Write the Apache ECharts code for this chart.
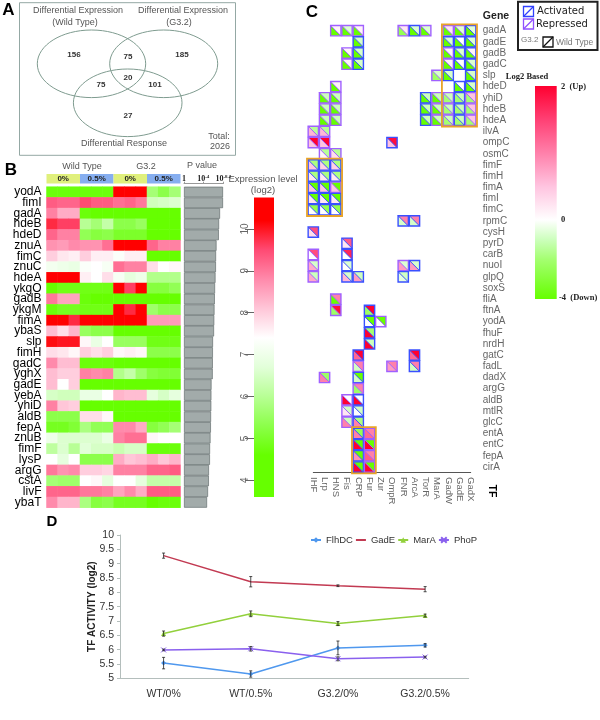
<!DOCTYPE html>
<html><head><meta charset="utf-8">
<style>html,body{margin:0;padding:0;background:#fff}#c{width:600px;height:720px}</style>
<script src="https://cdn.jsdelivr.net/npm/echarts@6/dist/echarts.min.js"></script>
</head><body><div id="c"></div>
<script>
// ---------- Panel A ----------
const vennCounts = ['156','75','185','20','75','101','27'];
const vennTotal = '2026';
// ---------- Panel B ----------
const exprGenes = ['yodA','fimI','gadA','hdeB','hdeD','znuA','fimC','znuC','hdeA','ykgO','gadB','ykgM','fimA','ybaS','slp','fimH','gadC','yghX','gadE','yebA','yhiD','aldB','fepA','znuB','fimF','lysP','argG','cstA','livF','ybaT'];
const exprConditions = ['WT0a','WT0b','WT0c','WT5a','WT5b','WT5c','G0a','G0b','G0c','G5a','G5b','G5c'];
const exprValues = [
[4.7,4.7,4.7,4.7,4.7,4.7,10.5,10.5,10.5,5.7,5.3,5.7],
[9.3,9.2,9.2,9.5,9.3,9.3,9.1,9.2,9.0,6.4,6.5,6.6],
[8.9,8.4,8.4,4.7,4.5,4.5,4.5,4.5,4.5,4.5,4.5,4.5],
[9.8,9.6,9.6,6.0,5.7,6.2,5.3,5.3,5.5,4.6,4.5,4.5],
[9.2,8.9,8.9,5.4,5.2,5.3,5.0,5.0,5.0,4.6,4.6,4.6],
[8.7,8.6,8.8,8.7,8.7,9.1,10.5,10.5,10.5,9.2,8.9,8.9],
[8.0,7.7,7.6,8.0,7.6,7.6,7.3,7.6,7.6,4.6,4.6,4.6],
[7.1,7.0,6.9,7.3,7.4,7.2,9.1,8.9,8.9,7.8,7.4,7.5],
[10.5,10.5,10.5,7.6,7.4,7.8,7.2,6.8,7.0,5.9,5.9,5.9],
[4.6,4.8,4.8,4.8,4.8,4.8,10.5,9.6,10.5,5.2,5.2,5.4],
[9.0,8.5,8.5,4.7,4.5,4.5,4.5,4.5,4.5,4.5,4.5,4.5],
[4.7,4.9,4.9,4.8,4.8,4.8,10.3,9.8,10.3,5.6,5.3,5.3],
[10.3,10.5,9.8,10.3,10.3,10.3,10.5,10.5,10.5,8.6,8.6,8.6],
[8.2,7.8,8.3,5.5,5.3,5.3,4.6,4.6,4.6,4.5,4.5,4.5],
[10.1,10.0,10.0,7.5,6.9,7.4,5.5,5.5,5.5,4.8,4.8,4.8],
[7.8,7.7,7.5,8.0,7.8,8.0,7.5,7.6,7.5,5.3,5.3,5.3],
[8.8,8.2,8.2,4.7,4.7,4.7,4.5,4.5,4.5,4.5,4.5,4.5],
[8.2,8.0,8.0,8.9,8.8,8.9,5.9,6.2,5.6,5.2,5.1,5.1],
[8.2,7.4,8.0,4.6,4.5,4.5,4.5,4.5,4.5,4.5,4.5,4.5],
[6.5,6.4,6.4,6.9,6.9,7.4,8.3,8.2,8.2,6.8,6.5,6.8],
[8.9,8.1,8.0,4.6,4.5,4.5,4.5,4.5,4.5,4.5,4.5,4.5],
[5.3,5.3,5.3,7.8,7.8,7.5,4.6,4.6,4.6,4.6,4.6,4.6],
[4.9,4.9,5.1,5.8,5.4,5.4,8.8,8.8,8.4,5.2,5.4,5.7],
[7.0,6.6,6.6,6.6,6.6,6.9,8.9,9.1,9.1,7.5,7.4,7.4],
[6.1,6.6,6.0,6.7,6.5,6.5,6.3,6.5,6.5,4.7,4.7,4.7],
[7.4,6.8,7.4,5.3,5.3,5.3,8.4,8.1,8.2,8.4,8.1,8.3],
[9.0,8.7,8.8,8.0,8.0,7.9,8.9,8.9,8.9,9.2,9.2,9.3],
[5.7,5.6,5.6,7.4,7.5,6.8,7.4,7.4,6.8,6.2,6.2,6.2],
[9.2,9.2,9.2,9.0,9.0,8.9,8.5,8.8,8.4,9.3,9.3,9.3],
[8.8,8.3,8.3,5.8,5.2,5.3,4.9,4.9,4.9,4.6,4.7,4.7]];
const pValueLog = [8.12,8.12,7.5,7.3,7.25,6.77,6.67,6.65,6.56,6.46,6.42,6.35,6.3,6.25,6.04,6.02,6.0,5.98,5.73,5.7,5.68,5.63,5.6,5.52,5.42,5.4,5.2,5.18,5.0,4.8];
const exprTicks = [4,5,6,7,8,9,10];
const exprScaleStops = [[4.6,'#66ff00'],[5.3,'#8cff4a'],[6.0,'#b8ff95'],[6.7,'#e2ffd9'],[7.4,'#ffffff'],[8.1,'#ffc6d8'],[8.8,'#ff8aab'],[9.5,'#ff4a73'],[10.2,'#ff0000']];
const conditionLabels = ['0%','0.5%','0%','0.5%'];
// ---------- Panel C ----------
const tfNames = ['IHF','Lrp','HNS','Fis','CRP','Fur','Zur','OmpR','FNR','ArcA','TorR','MarA','GadW','GadE','GadX'];
const targetGenes = ['gadA','gadE','gadB','gadC','slp','hdeD','yhiD','hdeB','hdeA','ilvA','ompC','osmC','fimF','fimH','fimA','fimI','fimC','rpmC','cysH','pyrD','carB','nuoI','glpQ','soxS','fliA','ftnA','yodA','fhuF','nrdH','gatC','fadL','dadX','argG','aldB','mtlR','glcC','entA','entC','fepA','cirA'];
// [tf index, gene index, 1 = activated / 0 = repressed, WT (lower-left) log2, G3.2 (upper-right) log2]
const regulationCells = [
[2,0,0,-4,.1],[3,0,0,-4,-.7],[4,0,0,-4,.1],[8,0,0,-2.5,.2],[9,0,1,-4,-.7],[10,0,0,-4,-.7],[12,0,0,-4,.2],[13,0,0,-4,-.6],[14,0,1,-4,-.6],
[4,1,1,-4,-.8],[12,1,1,-4,-.7],[13,1,1,-4,0],[14,1,1,-4,-.7],
[3,2,0,-4,.1],[4,2,1,-4,-.8],[12,2,0,-4,.1],[13,2,1,-4,-.7],[14,2,1,-4,.1],
[3,3,0,-4,.1],[4,3,1,-4,-.8],[12,3,0,-4,.1],[13,3,1,-4,0],[14,3,1,-4,-.7],
[11,4,0,-2.2,-.8],[12,4,1,-4,-.8],[14,4,1,-4,-.8],
[2,5,0,-4,.1],[13,5,1,-4,0],[14,5,1,-4,-.8],
[1,6,0,-4,-1],[2,6,0,-4,-1],[10,6,1,-4,-1],[11,6,0,-4,-1],[12,6,0,-2,-1],[13,6,1,-2,-1],[14,6,0,-2,.5],
[1,7,0,-4,-1],[2,7,0,-4,-1],[10,7,1,-4,-1],[11,7,0,-4,-1],[12,7,0,-2,-1],[13,7,1,-2,-1],[14,7,0,-2,.5],
[1,8,0,-4,-1],[2,8,0,-4,-1],[10,8,1,-4,-1],[11,8,0,-4,-1],[12,8,0,-2,-1],[13,8,1,-2,-1],[14,8,0,-2,.5],
[0,9,0,.6,-1.5],[1,9,0,.6,-1.5],
[0,10,0,.5,2],[1,10,0,.5,2],[7,10,1,.5,1.9],
[1,11,0,.1,-1.5],[2,11,0,.3,-1.5],
[0,12,1,.5,-1.8],[1,12,1,.4,-1.8],[2,12,1,.4,-1.8],
[0,13,1,.2,-1.8],[1,13,1,.2,-1.8],[2,13,1,.2,-1.8],
[0,14,1,.5,-4],[1,14,1,.5,-4],[2,14,0,.5,-4],
[0,15,1,.2,-4],[1,15,1,.2,-4],[2,15,1,.2,-4],
[0,16,1,0,-2.6],[1,16,1,0,-2.6],[2,16,1,0,-2.6],
[8,17,1,-.8,1],[9,17,1,-.8,1],
[0,18,1,.3,1.4],
[3,19,1,.2,1.3],
[0,20,0,0,1.4],[3,20,1,0,1.7],
[0,21,0,.7,-.8],[3,21,1,0,-.7],[8,21,0,.8,-.7],[9,21,1,.8,-.8],
[0,22,0,.7,-1],[3,22,1,.6,-.8],[4,22,1,.8,-1],[8,22,1,-.5,-.9],
[2,24,0,-4,1],[2,25,0,-2.2,1.9],[5,25,1,-2.2,2],
[5,26,1,0,-4],[6,26,0,0,-4],
[5,27,1,2,-2],[5,28,1,2,-1],
[4,29,1,1.2,2],[9,29,1,1.2,2],
[4,30,0,-.9,1],[7,30,0,.8,1],[9,30,1,-.9,1],
[1,31,0,1,-2.2],[4,31,1,-.9,-4],
[4,32,0,-2.2,1],
[3,33,0,2,0],[4,33,1,2,0],
[3,34,0,.2,-.9],[4,34,1,0,-.9],
[3,35,0,1,-1],[4,35,1,1,-1.8],
[4,36,1,1,-2.5],[5,36,0,1.2,1],
[4,37,1,2,-4],[5,37,0,2,-4],
[4,38,1,.9,-4],[5,38,0,1.3,1],
[4,39,1,2,-4],[5,39,0,2,-4]];
const highlightBlocks = [[12,0,14,8],[0,12,2,16],[4,36,5,39]];
const log2Stops = [[-4,'#66ff00'],[-2,'#a4ff70'],[-1,'#ccffbc'],[0,'#ffffff'],[0.5,'#ffc4e0'],[1,'#ff80aa'],[1.5,'#ff4074'],[2,'#ff0030']];
// ---------- Panel D ----------
const sampleLabels = ['WT/0%','WT/0.5%','G3.2/0%','G3.2/0.5%'];
const flhDC = [5.53,5.15,6.06,6.15];
const flhDCErr = [.2,.11,.24,.06];
const gadE = [9.28,8.37,8.23,8.11];
const gadEErr = [.09,.18,.03,.09];
const marA = [6.56,7.25,6.91,7.19];
const marAErr = [.09,.1,.07,.05];
const phoP = [5.99,6.03,5.68,5.74];
const phoPErr = [.03,.08,.07,.03];

const SANS = '"Liberation Sans",Arial,sans-serif', SERIF='"Liberation Serif",serif', WIDE='"DejaVu Sans",sans-serif';
function hex(c){return [1,3,5].map(i=>parseInt(c.substr(i,2),16));}
function scaleColor(stops,v){
  if(v<=stops[0][0])return stops[0][1];
  for(let i=1;i<stops.length;i++){ if(v<=stops[i][0]){
    const t=(v-stops[i-1][0])/(stops[i][0]-stops[i-1][0]),a=hex(stops[i-1][1]),b=hex(stops[i][1]);
    return 'rgb('+a.map((x,k)=>Math.round(x+(b[k]-x)*t)).join(',')+')';}}
  return stops[stops.length-1][1];
}
const chart = echarts.init(document.getElementById('c'),null,{renderer:'canvas'});
const g = [];
function T(text,x,y,o){o=o||{};g.push({type:'text',x,y,rotation:o.rot||0,silent:true,style:{text,x:0,y:0,fill:o.fill||'#555',font:(o.w||'normal')+' '+(o.s||9)+'px '+(o.f||SANS),textAlign:o.a||'center',textVerticalAlign:'middle'}});}
function R(x,y,w,h,fill,stroke,lw){g.push({type:'rect',shape:{x,y,width:w,height:h},silent:true,style:{fill:fill||'none',stroke:stroke||'none',lineWidth:lw||0}});}
function E(cx,cy,rx,ry){g.push({type:'ellipse',shape:{cx,cy,rx,ry},silent:true,style:{fill:'none',stroke:'#7f9c90',lineWidth:1}});}
function L(x1,y1,x2,y2,c,w){g.push({type:'line',shape:{x1,y1,x2,y2},silent:true,style:{stroke:c,lineWidth:w}});}
// panel letters
T('A',8.5,10,{s:17,w:'bold',fill:'#000'}); T('B',11,170,{s:17,w:'bold',fill:'#000'}); T('C',312,12,{s:17,w:'bold',fill:'#000'}); T('D',52,522,{s:15,w:'bold',fill:'#000'});
// venn
R(19.5,2.7,216,152.6,null,'#94a8a4',1);
E(91.5,63.8,54.2,33.8);E(163.7,63.8,54,33.8);E(127.7,102.8,54.3,33.8);
T('Differential Expression',78,11);T('(Wild Type)',75,22.5);T('Differential Expression',183,11);T('(G3.2)',179,22.5);T('Differential Response',124,144);
T('Total:',219,137);T(vennTotal,220,147);
[[74,55],[128,57],[182,55],[128,77.5],[101,85],[155,85],[128,116]].forEach((p,i)=>T(vennCounts[i],p[0],p[1],{s:8,w:'bold',fill:'#333'}));
// B headers
T('Wild Type',82,167);T('G3.2',146,167);T('P value',202,166);
T('Expression level',263,179,{s:9.5});T('(log2)',263,190,{s:9.5});
const hdrX=[46.5,80,113.5,147],hdrC=['#e0f07c','#86aef0','#e0f07c','#86aef0'];
conditionLabels.forEach((l,i)=>{R(hdrX[i],174,33.5,9.5,hdrC[i]);T(l,hdrX[i]+16.7,179,{s:8,w:'bold',fill:'#222'});});
// C texts
T('Gene',496,16,{s:10.5,w:'bold',fill:'#222'});
T('TF',492,491,{s:10.5,w:'bold',fill:'#000',rot:-Math.PI/2});
// C legend
R(518,1.7,79.5,48.3,'#fff','#222',2);
function icon(x,y,c){R(x,y,10,10,'#fff',c,1.3);L(x,y+10,x+10,y,c,1.3);}
icon(523.5,6.5,'#3040ff');T('Activated',537,11,{a:'left',s:10,f:WIDE,fill:'#222'});
icon(523.5,19,'#9050ff');T('Repressed',536,24,{a:'left',s:10,f:WIDE,fill:'#222'});
T('G3.2',521,40,{a:'left',s:8,fill:'#777'});icon(543,37,'#111');T('Wild Type',556,43,{a:'left',s:8.5,fill:'#777'});
// C scale
const barTop=86,barZero=220,barBot=299;
const y4v=v=>v>=0?barZero-(barZero-barTop)*v/2:barZero+(barBot-barZero)*(-v)/4;
g.push({type:'rect',shape:{x:535,y:barTop,width:21.7,height:barBot-barTop},silent:true,style:{fill:new echarts.graphic.LinearGradient(0,0,0,1,log2Stops.slice().reverse().map(s=>({offset:(y4v(s[0])-barTop)/(barBot-barTop),color:s[1]})))}});
T('Log2 Based',527,77,{s:8.5,w:'bold',f:SERIF,fill:'#222'});
T('2  (Up)',561,87,{a:'left',s:8.5,w:'bold',f:SERIF,fill:'#222'});
T('0',561,220,{a:'left',s:8.5,w:'bold',f:SERIF,fill:'#222'});
T('-4  (Down)',559,298,{a:'left',s:8.5,w:'bold',f:SERIF,fill:'#222'});

const heatData=[];exprValues.forEach((r,y)=>r.forEach((v,x)=>heatData.push([x,y,v])));
const exprMin=3.6,exprMax=10.75;
const B=[186.7,321];
const option={
  animation:false,backgroundColor:'#fff',
  textStyle:{fontFamily:SANS},
  graphic:g,
  grid:[
    {left:46.5,top:B[0],width:134,height:B[1]},
    {left:184,top:B[0],width:39.4,height:B[1]},
    {left:254,top:197.5,width:20,height:299.5},
    {left:313.3,top:30.7,width:157.4,height:436.3},
    {left:120,top:535,width:348.7,height:143.3}
  ],
  xAxis:[
    {gridIndex:0,type:'category',data:exprConditions,show:false},
    {gridIndex:1,type:'value',position:'top',min:0,max:8.2,interval:4,offset:3,
      axisLine:{show:true,lineStyle:{color:'#999'}},axisTick:{show:true,length:2,lineStyle:{color:'#999'}},splitLine:{show:false},
      axisLabel:{margin:1,fontFamily:SERIF,fontWeight:'bold',fontSize:8,color:'#222',hideOverlap:false,showMinLabel:true,showMaxLabel:true,
        formatter:v=>v===0?'1':'{a|10}{b|-'+v+'}',rich:{a:{fontFamily:SERIF,fontWeight:'bold',fontSize:8,color:'#222'},b:{fontFamily:SERIF,fontWeight:'bold',fontSize:5,color:'#222',verticalAlign:'top'}}}},
    {gridIndex:2,type:'category',data:['level'],show:false},
    {gridIndex:3,type:'category',data:tfNames,boundaryGap:false,offset:5,
      axisLine:{lineStyle:{color:'#555'}},axisTick:{length:6,lineStyle:{color:'#555'},interval:0},
      axisLabel:{rotate:-90,interval:0,fontSize:9.5,color:'#666',margin:5}},
    {gridIndex:4,type:'category',data:sampleLabels,
      axisLine:{lineStyle:{color:'#b4bebc',width:1}},axisTick:{length:3,lineStyle:{color:'#b4bebc'}},
      axisLabel:{fontSize:10.5,color:'#333',margin:10}}
  ],
  yAxis:[
    {gridIndex:0,type:'category',data:exprGenes,inverse:true,
      axisLine:{show:false},axisTick:{length:5,lineStyle:{color:'#666'},alignWithLabel:true},
      axisLabel:{interval:0,fontSize:12,color:'#000',margin:5}},
    {gridIndex:1,type:'category',data:exprGenes,inverse:true,show:false},
    {gridIndex:2,type:'value',min:exprMin,max:exprMax,position:'left',splitLine:{show:false},
      axisLine:{show:false},axisTick:{show:true,length:9,lineStyle:{color:'#666'},customValues:exprTicks},
      axisLabel:{rotate:90,fontSize:10,color:'#666',margin:4,customValues:exprTicks,formatter:v=>String(v)}},
    {gridIndex:3,type:'category',data:targetGenes,inverse:true,boundaryGap:false,position:'right',offset:7,
      axisLine:{show:false},axisTick:{length:5,lineStyle:{color:'#555'},interval:0},
      axisLabel:{interval:0,fontSize:10,color:'#666',margin:5}},
    {gridIndex:4,type:'value',min:5,max:10,interval:.5,splitLine:{show:false},
      axisLine:{show:true,lineStyle:{color:'#b4bebc'}},axisTick:{show:true,length:3,lineStyle:{color:'#b4bebc'}},
      axisLabel:{fontSize:10.5,color:'#333',margin:6,formatter:v=>String(v)},
      name:'TF ACTIVITY (log2)',nameLocation:'middle',nameRotate:90,nameGap:23,nameMoveOverlap:false,nameTextStyle:{fontSize:10,fontWeight:'bold',color:'#222'}}
  ],
  visualMap:[{show:false,seriesIndex:0,type:'continuous',dimension:2,min:exprScaleStops[0][0],max:exprScaleStops[8][0],inRange:{color:exprScaleStops.map(s=>s[1])}}],
  legend:{left:305,top:530,itemWidth:10,itemHeight:7,itemGap:2,symbolSize:5,textStyle:{fontSize:9.5,color:'#333'},
    data:['FlhDC',{name:'GadE',itemStyle:{opacity:0}},'MarA','PhoP']},
  series:[
    {type:'heatmap',xAxisIndex:0,yAxisIndex:0,data:heatData,progressive:0,itemStyle:{borderWidth:0}},
    {type:'bar',xAxisIndex:1,yAxisIndex:1,data:pValueLog,barWidth:'100%',itemStyle:{color:'#a2abaa',borderColor:'#667070',borderWidth:.7}},
    {type:'bar',xAxisIndex:2,yAxisIndex:2,data:[exprMax],barWidth:'100%',
      itemStyle:{color:new echarts.graphic.LinearGradient(0,0,0,1,
        [{offset:0,color:'#ff0000'},{offset:(exprMax-10.2)/(exprMax-exprMin),color:'#ff0000'}]
        .concat(exprScaleStops.slice().reverse().map(s=>({offset:(exprMax-s[0])/(exprMax-exprMin),color:s[1]})))
        .concat([{offset:1,color:'#66ff00'}]))}},
    {type:'custom',xAxisIndex:3,yAxisIndex:3,data:regulationCells,encode:{x:0,y:1},clip:false,
      renderItem(p,api){
        const c=api.coord([api.value(0),api.value(1)]),h=5.15;
        const l=c[0]-h,r=c[0]+h,t=c[1]-h,b=c[1]+h;
        const st=api.value(2)?'#3a50ff':'#a060ff';
        return {type:'group',children:[
          {type:'polygon',shape:{points:[[l,t],[l,b],[r,b]]},style:{fill:scaleColor(log2Stops,api.value(3))}},
          {type:'polygon',shape:{points:[[l,t],[r,t],[r,b]]},style:{fill:scaleColor(log2Stops,api.value(4))}},
          {type:'line',shape:{x1:l,y1:t,x2:r,y2:b},style:{stroke:st,lineWidth:1}},
          {type:'rect',shape:{x:l,y:t,width:2*h,height:2*h},style:{fill:'none',stroke:st,lineWidth:1.4}}
        ]};
      }},
    {type:'custom',xAxisIndex:3,yAxisIndex:3,data:highlightBlocks,encode:{x:[0,2],y:[1,3]},clip:false,z:5,
      renderItem(p,api){
        const a=api.coord([api.value(0),api.value(1)]),b=api.coord([api.value(2),api.value(3)]);
        return {type:'rect',shape:{x:a[0]-6.3,y:a[1]-6.3,width:b[0]-a[0]+12.6,height:b[1]-a[1]+12.6},style:{fill:'none',stroke:'#e8a428',lineWidth:1.8}};
      }},
    lineS('FlhDC',flhDC,'#4f98ee','diamond',5),
    lineS('GadE',gadE,'#c23a52','none',0),
    lineS('MarA',marA,'#92d03c','triangle',5),
    lineS('PhoP',phoP,'#8a60ee','path://M0 0L10 10M10 0L0 10',5),
    errS(flhDC,flhDCErr),errS(gadE,gadEErr),errS(marA,marAErr),errS(phoP,phoPErr)
  ]
};
function lineS(name,data,color,symbol,size){
  return {type:'line',name,xAxisIndex:4,yAxisIndex:4,data,symbol,symbolSize:size,showSymbol:true,
    lineStyle:{color,width:1.5},itemStyle:{color,borderColor:color,borderWidth:symbol.startsWith('path')?1:0},z:3};
}
function errS(vals,errs){
  return {type:'custom',xAxisIndex:4,yAxisIndex:4,z:4,data:vals.map((v,i)=>[i,v-errs[i],v+errs[i]]),encode:{x:0,y:[1,2]},
    renderItem(p,api){
      const a=api.coord([api.value(0),api.value(1)]),b=api.coord([api.value(0),api.value(2)]),s={stroke:'#222',lineWidth:.8};
      return {type:'group',children:[
        {type:'line',shape:{x1:a[0],y1:a[1],x2:b[0],y2:b[1]},style:s},
        {type:'line',shape:{x1:a[0]-1.5,y1:a[1],x2:a[0]+1.5,y2:a[1]},style:s},
        {type:'line',shape:{x1:b[0]-1.5,y1:b[1],x2:b[0]+1.5,y2:b[1]},style:s}
      ]};
    }};
}
chart.setOption(option);
</script></body></html>
